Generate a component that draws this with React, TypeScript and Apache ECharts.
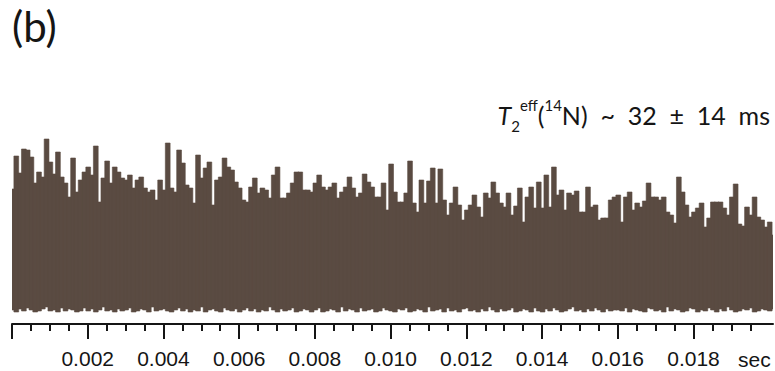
import React, { useEffect, useRef } from "react";
import * as echarts from "echarts";

// Free-induction decay record: the signal is sampled every 0.1 ms and stored as
// its upper and lower envelope (arbitrary amplitude units, 0 = axis baseline).
const sampleStep = 0.0001; // s
const timeMax = 0.0201; // s

const upperEnvelope = [
  135, 168, 151, 175, 174, 167, 141, 152, 147, 185,
  162, 150, 172, 147, 141, 127, 166, 132, 144, 152,
  157, 149, 178, 122, 146, 163, 141, 157, 152, 146,
  144, 149, 136, 144, 147, 136, 132, 134, 124, 144,
  134, 181, 136, 132, 174, 161, 139, 136, 121, 169,
  146, 156, 162, 119, 144, 147, 166, 157, 154, 142,
  136, 124, 122, 137, 146, 131, 136, 134, 126, 149,
  157, 126, 126, 131, 141, 152, 152, 134, 134, 132,
  141, 149, 137, 134, 137, 141, 126, 132, 137, 147,
  136, 127, 131, 150, 142, 137, 127, 127, 141, 114,
  160, 132, 122, 122, 131, 163, 121, 112, 144, 121,
  143, 156, 121, 155, 124, 109, 121, 137, 119, 104,
  114, 119, 129, 117, 107, 131, 126, 142, 131, 121,
  117, 131, 109, 118, 136, 102, 127, 137, 116, 142,
  116, 149, 117, 157, 129, 134, 114, 131, 129, 133,
  112, 112, 137, 117, 119, 104, 106, 106, 124, 127,
  129, 102, 127, 132, 114, 121, 117, 123, 141, 127,
  127, 124, 127, 112, 109, 101, 147, 132, 119, 107,
  112, 116, 121, 97, 106, 122, 122, 122, 116, 109,
  127, 140, 100, 98, 117, 109, 127, 107, 104, 97,
  102, 89,
];

const lowerEnvelope = [
  14, 12, 15, 13, 16, 14, 12, 13, 15, 17, 13, 14, 12, 16, 13, 15, 14, 12, 13, 16,
  13, 15, 12, 14, 17, 13, 14, 12, 15, 13, 14, 16, 12, 13, 15, 14, 12, 17, 13, 14,
  15, 13, 12, 14, 16, 13, 15, 12, 14, 13, 17, 12, 14, 15, 13, 12, 16, 14, 13, 15,
  12, 14, 16, 13, 15, 12, 14, 13, 17, 14, 12, 15, 13, 14, 16, 12, 13, 15, 14, 12,
  14, 16, 12, 13, 15, 14, 12, 17, 13, 15, 14, 12, 16, 13, 14, 15, 12, 13, 16, 14,
  13, 12, 15, 14, 16, 12, 13, 15, 14, 12, 17, 13, 14, 15, 12, 16, 13, 14, 12, 15,
  16, 13, 14, 12, 15, 13, 17, 14, 12, 15, 13, 14, 16, 12, 13, 15, 14, 12, 16, 13,
  12, 15, 13, 16, 14, 12, 13, 15, 17, 13, 14, 12, 15, 13, 16, 14, 12, 15, 13, 14,
  14, 13, 16, 12, 15, 14, 13, 12, 16, 15, 13, 14, 12, 17, 13, 15, 14, 12, 13, 16,
  15, 12, 14, 13, 16, 14, 12, 15, 13, 17, 14, 12, 13, 15, 14, 16, 12, 13, 15, 14,
  13, 15,
];

const majorTicks = [0, 0.002, 0.004, 0.006, 0.008, 0.01, 0.012, 0.014, 0.016, 0.018];
const tickLabels = [0.002, 0.004, 0.006, 0.008, 0.01, 0.012, 0.014, 0.016, 0.018];
const minorTickStep = 0.0005;
const unitLabel = "sec";
const panelLabel = "(b)";

const BROWN = "#5a4b42";
const INK = "#151515";
const TEXT_FONT = "Lato, sans-serif";

export default function App() {
  const ref = useRef<HTMLDivElement>(null);

  useEffect(() => {
    if (!ref.current) return;
    const chart = echarts.init(ref.current, undefined, { renderer: "svg" });

    const samples = upperEnvelope.map((hi, i) => [
      +(i * sampleStep).toFixed(5),
      lowerEnvelope[i],
      hi,
    ]);

    const minorTicks: number[] = [];
    for (let k = 1; k * minorTickStep < timeMax; k++) {
      if (k % 4 !== 0) minorTicks.push(+(k * minorTickStep).toFixed(5));
    }

    chart.setOption({
      animation: false,
      grid: { left: 12, right: 2, top: 130, bottom: 47 },
      xAxis: [
        {
          type: "value",
          min: 0,
          max: timeMax,
          position: "bottom",
          splitLine: { show: false },
          axisLine: { show: true, lineStyle: { color: INK, width: 2 } },
          axisTick: {
            show: true,
            customValues: majorTicks,
            length: 15,
            lineStyle: { color: INK, width: 2 },
          },
          axisLabel: {
            show: true,
            customValues: tickLabels,
            margin: 24,
            fontSize: 21,
            fontFamily: "Liberation Sans, Arial, sans-serif",
            color: INK,
            formatter: (v: number) => v.toFixed(3),
          },
        },
        {
          type: "value",
          min: 0,
          max: timeMax,
          position: "bottom",
          splitLine: { show: false },
          axisLine: { show: false },
          axisTick: {
            show: true,
            customValues: minorTicks,
            length: 7,
            lineStyle: { color: INK, width: 2 },
          },
          axisLabel: { show: false },
        },
      ],
      yAxis: { type: "value", min: 0, max: 194, show: false },
      series: [
        {
          type: "custom",
          clip: true,
          silent: true,
          data: samples,
          encode: { x: 0, y: [1, 2] },
          renderItem: (_params: any, api: any) => {
            const t = api.value(0);
            const lo = api.value(1);
            const hi = api.value(2);
            const a = api.coord([t - sampleStep / 2, hi]);
            const b = api.coord([t + sampleStep / 2, lo]);
            return {
              type: "rect",
              shape: { x: a[0], y: a[1], width: b[0] - a[0] + 1, height: b[1] - a[1] },
              style: { fill: BROWN, stroke: BROWN, lineWidth: 0.6 },
            };
          },
        },
      ],
      graphic: [
        {
          type: "text",
          left: 12,
          top: 5,
          style: {
            text: panelLabel,
            fontSize: 42,
            fontFamily: TEXT_FONT,
            fill: INK,
          },
        },
        {
          type: "text",
          left: 738,
          top: 349,
          style: {
            text: unitLabel,
            fontSize: 21,
            fontFamily: "Liberation Sans, Arial, sans-serif",
            fill: INK,
          },
        },
        {
          type: "text",
          right: 5,
          top: 97,
          style: {
            text: "{t|T}{sub|2}{sup|eff}{n|(}{sup|14}{n|N)  ~  32  ±  14  ms}",
            fill: INK,
            rich: {
              t: { fontSize: 25, fontStyle: "italic", fontFamily: TEXT_FONT, lineHeight: 36, verticalAlign: "middle", fill: INK },
              n: { fontSize: 25, fontFamily: TEXT_FONT, lineHeight: 36, verticalAlign: "middle", fill: INK },
              sup: { fontSize: 15, fontFamily: TEXT_FONT, lineHeight: 22, verticalAlign: "top", fill: INK },
              sub: { fontSize: 15, fontFamily: TEXT_FONT, lineHeight: 10, verticalAlign: "bottom", fill: INK },
            },
          },
        },
      ],
    });

    return () => chart.dispose();
  }, []);

  return (
    <div
      ref={ref}
      style={{ position: "fixed", left: 0, top: 0, width: 775, height: 371, background: "#fff" }}
    />
  );
}
